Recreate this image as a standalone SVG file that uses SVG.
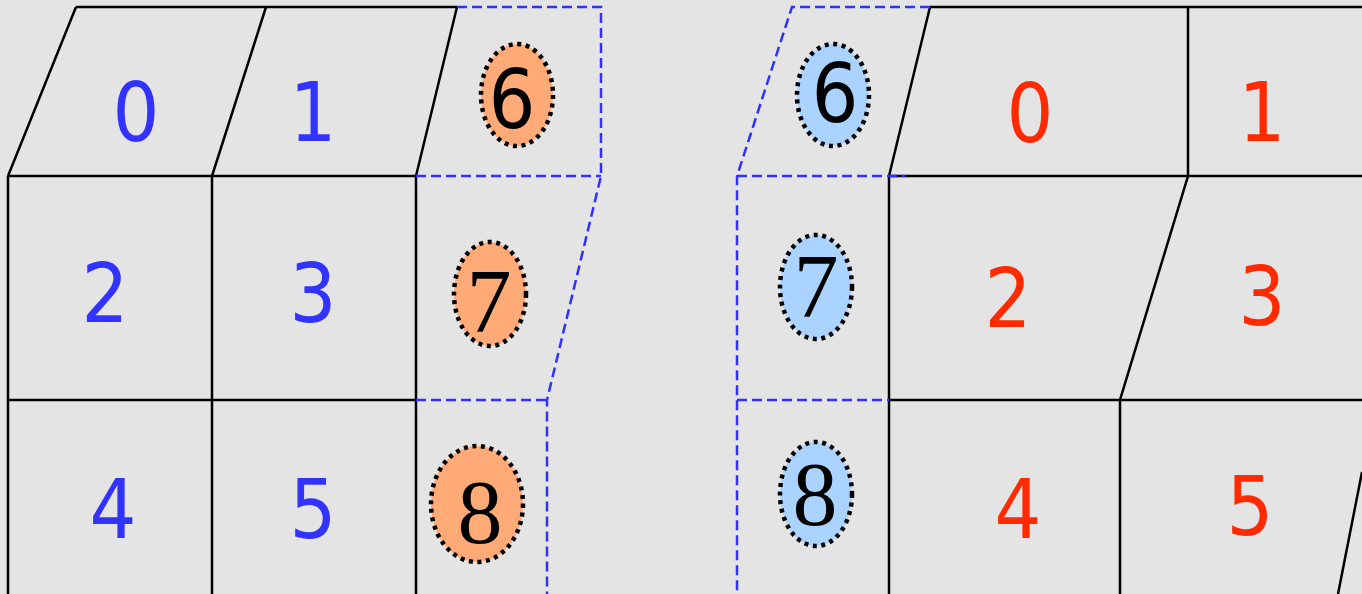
<svg xmlns="http://www.w3.org/2000/svg" width="1362" height="594" viewBox="0 0 1362 594">
<style>
.bg{fill:#e4e4e4}
.ln{fill:none;stroke:#000;stroke-width:2.5}
.dl{fill:none;stroke:#3030ff;stroke-width:2.5;stroke-dasharray:10 5}
.blue{fill:#3333ff;font-family:"DejaVu Sans Condensed","DejaVu Sans",sans-serif;font-size:82px;text-anchor:middle}
.red{fill:#ff2a00;font-family:"DejaVu Sans Condensed","DejaVu Sans",sans-serif;font-size:82px;text-anchor:middle}
.ov{stroke:#000;stroke-width:4.5;stroke-dasharray:4 4.6}
.or{fill:#ffaa77}
.lb{fill:#aad4ff}
.sans{fill:#000;font-family:"DejaVu Sans Condensed","DejaVu Sans",sans-serif;font-size:82px;text-anchor:middle}
.serif{fill:#000;font-family:"Liberation Serif","Times New Roman",serif;font-size:90px;text-anchor:middle}
</style>
<rect class="bg" x="0" y="0" width="1362" height="594"/>
<g id="connectors">
  <path class="ln" d="M76,7 H457 M8,176 H416 M8,400 H416 M76,7 L8,176 M266,7 L212,176 M457,7 L416,176 M8,176 V594 M212,176 V594 M416,176 V594"/>
  <path class="dl" d="M457,7 H601 V176 L547,400 V594 M416,176 H601 M416,400 H547"/>
  <path class="ln" d="M930,7 H1362 M889,176 H1362 M889,400 H1362 M930,7 L889,176 M1188,7 V176 L1120,400 V594 M889,176 V594 M1362,472 L1338,594"/>
  <path class="dl" d="M930,7 H792 L737,176 V594 M737,176 H905 M737,400 H889"/>
</g>
<g id="L0"><text class="blue" x="136" y="141">0</text></g>
<g id="L1"><text class="blue" x="313" y="141">1</text></g>
<g id="L2"><text class="blue" x="105" y="322">2</text></g>
<g id="L3"><text class="blue" x="313" y="322">3</text></g>
<g id="L4"><text class="blue" x="113" y="538">4</text></g>
<g id="L5"><text class="blue" x="313" y="538">5</text></g>
<g id="L6"><ellipse class="ov or" cx="517" cy="95" rx="36" ry="51"/><text class="sans" x="512" y="128">6</text></g>
<g id="L7"><ellipse class="ov or" cx="490" cy="294" rx="36" ry="52"/><text class="serif" x="489" y="332">7</text></g>
<g id="L8"><ellipse class="ov or" cx="477" cy="504" rx="46" ry="58"/><text class="serif" x="480" y="543">8</text></g>
<g id="R0"><text class="red" x="1030" y="142">0</text></g>
<g id="R1"><text class="red" x="1262" y="141">1</text></g>
<g id="R2"><text class="red" x="1008" y="327">2</text></g>
<g id="R3"><text class="red" x="1262" y="325">3</text></g>
<g id="R4"><text class="red" x="1018" y="538">4</text></g>
<g id="R5"><text class="red" x="1250" y="535">5</text></g>
<g id="R6"><ellipse class="ov lb" cx="833" cy="95" rx="36" ry="51"/><text class="sans" x="835" y="122">6</text></g>
<g id="R7"><ellipse class="ov lb" cx="816" cy="287" rx="36" ry="52"/><text class="serif" x="816" y="317">7</text></g>
<g id="R8"><ellipse class="ov lb" cx="816" cy="494" rx="36" ry="52"/><text class="serif" x="815" y="525">8</text></g>
</svg>
